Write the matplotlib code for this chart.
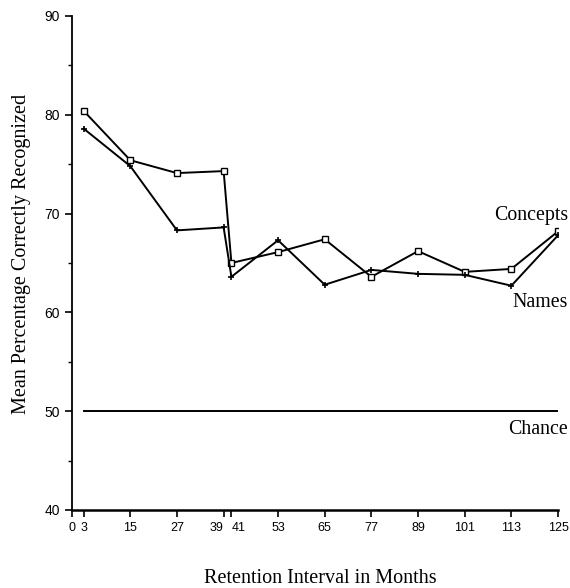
import matplotlib
matplotlib.use("Agg")
import matplotlib.pyplot as plt
from matplotlib.ticker import MultipleLocator

months = [3, 15, 27, 39, 41, 53, 65, 77, 89, 101, 113, 125]
concepts = [80.4, 75.4, 74.1, 74.3, 65.0, 66.1, 67.4, 63.6, 66.2, 64.1, 64.4, 68.2]
names = [78.6, 74.8, 68.3, 68.6, 63.6, 67.3, 62.8, 64.3, 63.9, 63.8, 62.7, 67.8]
chance_x = [3, 125]
chance_y = [50, 50]
xticks = [0, 3, 15, 27, 39, 41, 53, 65, 77, 89, 101, 113, 125]
yticks = [40, 50, 60, 70, 80, 90]

fig = plt.figure(figsize=(5.7, 5.88), dpi=100)
ax = fig.add_axes([0.1263, 0.1327, 0.8527, 0.8401])

ax.plot(months, concepts, color="black", lw=1.4, marker="s", ms=4.6,
        mfc="white", mec="black", mew=1.0, zorder=3)
ax.plot(months, names, color="black", lw=1.4, marker="+", ms=5,
        mew=1.2, zorder=3)
ax.plot(chance_x, chance_y, color="black", lw=1.4)

ax.set_xlim(0, 125)
ax.set_ylim(40, 90)
ax.set_xticks(xticks)
ax.set_yticks(yticks)
ax.yaxis.set_minor_locator(MultipleLocator(5))
for s in ["top", "right"]:
    ax.spines[s].set_visible(False)
ax.spines["left"].set_linewidth(1.3)
ax.spines["bottom"].set_linewidth(1.8)
ax.tick_params(axis="both", which="major", direction="out", length=5, width=1.2)
ax.tick_params(axis="x", labelsize=9)
ax.tick_params(axis="y", labelsize=10)
ax.tick_params(axis="y", which="minor", direction="out", length=3, width=1.0)
for lbl in ax.get_xticklabels() + ax.get_yticklabels():
    lbl.set_fontfamily("Liberation Sans")
xl = ax.get_xticklabels()
for lbl in xl:
    if lbl.get_text() == "39":
        lbl.set_horizontalalignment("right")
    if lbl.get_text() == "41":
        lbl.set_horizontalalignment("left")

serif = "Liberation Serif"
ax.set_ylabel("Mean Percentage Correctly Recognized", fontfamily=serif,
              fontsize=14.5)
ax.yaxis.set_label_coords(-0.084, 0.518)
ax.set_xlabel("Retention Interval in Months", fontfamily=serif,
              fontsize=14.5)
ax.xaxis.set_label_coords(0.51, -0.119)

ax.text(127.5, 69.8, "Concepts", fontfamily=serif, fontsize=14.3,
        ha="right", va="center", clip_on=False)
ax.text(127.5, 60.95, "Names", fontfamily=serif, fontsize=14.3,
        ha="right", va="center", clip_on=False)
ax.text(127.5, 48.1, "Chance", fontfamily=serif, fontsize=14.3,
        ha="right", va="center", clip_on=False)

fig.savefig("out.png", dpi=100)
